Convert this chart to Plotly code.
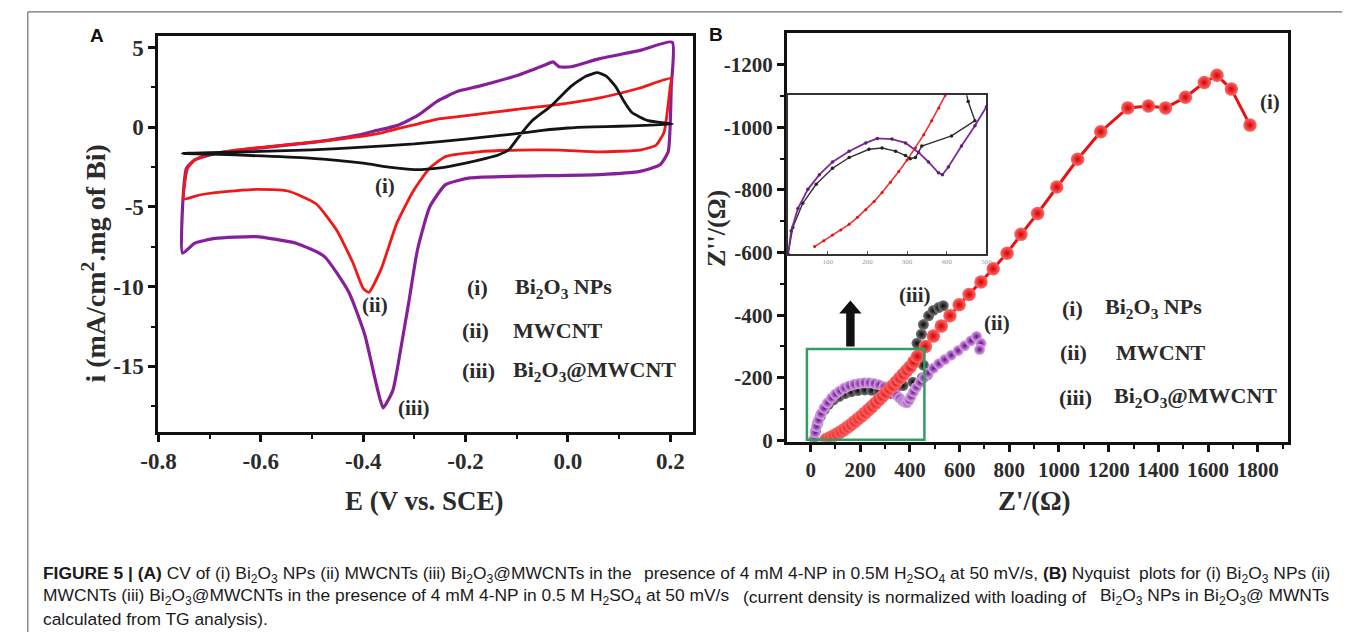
import plotly.graph_objects as go

W, H = 1348, 643

# ---------------- Panel A : CV data ----------------
cv_bi2o3_e = [-0.753, -0.70, -0.60, -0.50, -0.40, -0.35, -0.30, -0.25, -0.20, -0.16, -0.136, -0.115,
              -0.096, -0.07, -0.033, 0.006, 0.035, 0.058, 0.075, 0.093, 0.11, 0.125, 0.157, 0.204,
              0.15, 0.10, 0.05, 0.0, -0.05, -0.10, -0.20, -0.30, -0.40, -0.50, -0.60, -0.70, -0.753]
cv_bi2o3_i = [-1.64, -1.68, -1.80, -1.95, -2.25, -2.50, -2.66, -2.55, -2.25, -1.95, -1.74, -1.40,
              -0.60, 0.40, 1.33, 2.56, 3.20, 3.42, 3.20, 2.56, 1.60, 0.92, 0.41, 0.20,
              0.12, 0.06, 0.02, -0.05, -0.20, -0.40, -0.75, -1.05, -1.25, -1.42, -1.52, -1.60, -1.64]

cv_mwcnt_e = [-0.751, -0.72, -0.689, -0.61, -0.547, -0.492, -0.452, -0.42, -0.40, -0.389, -0.365,
              -0.334, -0.302, -0.27, -0.239, -0.175, -0.096, -0.017, 0.062, 0.141, 0.172, 0.188,
              0.20, 0.202, 0.141, 0.062, -0.017, -0.096, -0.175, -0.255, -0.294, -0.334, -0.373,
              -0.413, -0.492, -0.571, -0.65, -0.705, -0.729, -0.743, -0.749, -0.751]
cv_mwcnt_i = [-4.5, -4.25, -4.1, -3.9, -4.0, -4.8, -6.45, -8.5, -10.1, -10.35, -8.9,
              -6.0, -4.0, -2.56, -1.84, -1.54, -1.43, -1.43, -1.54, -1.43, -1.13, -0.31,
              2.56, 3.07, 2.46, 1.84, 1.43, 1.13, 0.82, 0.51, 0.2, -0.1, -0.41,
              -0.61, -0.92, -1.17, -1.43, -1.74, -2.05, -2.56, -3.6, -4.5]

cv_comp_e = [-0.753, -0.729, -0.689, -0.61, -0.531, -0.476, -0.428, -0.397, -0.373, -0.361, -0.342,
             -0.326, -0.31, -0.294, -0.27, -0.239, -0.191, -0.096, 0.062, 0.141, 0.18, 0.196,
             0.202, 0.204, 0.141, 0.062, 0.006, -0.017, -0.029, -0.045, -0.096, -0.175, -0.215,
             -0.255, -0.294, -0.334, -0.373, -0.413, -0.492, -0.61, -0.689, -0.729, -0.745,
             -0.751, -0.753]
cv_comp_i = [-7.9, -7.27, -6.97, -6.86, -7.27, -8.1, -10.35, -13.0, -16.3, -17.6, -16.5,
             -13.8, -10.8, -7.7, -5.0, -3.6, -3.18, -3.07, -2.97, -2.77, -2.36, -1.54,
             2.56, 5.33, 4.82, 4.30, 3.79, 3.79, 4.1, 3.9, 3.28, 2.56, 2.25,
             1.64, 0.72, 0.1, -0.2, -0.51, -0.92, -1.33, -1.64, -2.05, -2.56,
             -4.0, -7.9]

a_xticks = [-0.8, -0.6, -0.4, -0.2, 0.0, 0.2]
a_xticktext = ["-0.8", "-0.6", "-0.4", "-0.2", "0.0", "0.2"]
a_xminor = [-0.7, -0.5, -0.3, -0.1, 0.1]
a_yticks = [5, 0, -5, -10, -15]
a_yticktext = ["5", "0", "-5", "-10", "-15"]
a_yminor = [2.5, -2.5, -7.5, -12.5, -17.5]

# ---------------- Panel B : Nyquist data ----------------
nps_zre = [63, 78, 92, 106, 120, 134, 148, 162, 176, 190, 204, 218, 232, 246, 260, 274, 288, 302,
           316, 330, 344, 358, 372, 386, 400, 415, 430, 462, 494, 526, 561, 598, 638, 686, 735,
           791, 847, 914, 991, 1075, 1168, 1277, 1360, 1429, 1509, 1585, 1636, 1694, 1769]
nps_zim = [-3, -8, -14, -20, -27, -34, -42, -50, -59, -68, -77, -87, -97, -107, -118, -129, -140,
           -151, -163, -174, -186, -198, -210, -222, -234, -250, -268, -300, -333, -365, -398,
           -433, -466, -506, -548, -598, -658, -725, -809, -898, -986, -1062, -1068, -1062,
           -1096, -1143, -1166, -1122, -1007]

mwcnt_zre = [14, 18, 24, 32, 42, 54, 68, 84, 100, 118, 136, 155, 175, 195, 215, 235, 255, 275,
             295, 313, 330, 345, 358, 370, 380, 388, 396, 404, 414, 426, 440, 456, 474, 494, 516,
             540, 566, 594, 620, 645, 668, 686, 680]
mwcnt_zim = [-5, -25, -45, -65, -85, -103, -120, -135, -148, -158, -167, -174, -179, -182, -184,
             -184, -182, -178, -172, -164, -155, -145, -135, -126, -121, -120, -128, -140, -155,
             -170, -185, -200, -215, -230, -245, -258, -272, -287, -302, -318, -332, -310, -290]

comp_zre = [14, 20, 28, 40, 55, 72, 92, 114, 138, 163, 190, 218, 246, 274, 300, 322, 340, 372,
            412, 450, 471, 454, 440, 428, 446, 454, 475, 494, 515, 534]
comp_zim = [-5, -30, -55, -78, -98, -115, -129, -140, -149, -155, -159, -161, -160, -157, -152,
            -150, -160, -175, -186, -200, -210, -240, -270, -310, -339, -370, -398, -415, -424, -430]

b_xticks = [0, 200, 400, 600, 800, 1000, 1200, 1400, 1600, 1800]
b_xticktext = ["0", "200", "400", "600", "800", "1000", "1200", "1400", "1600", "1800"]
b_xminor = [100, 300, 500, 700, 900, 1100, 1300, 1500, 1700, 1900]
b_yticks = [0, -200, -400, -600, -800, -1000, -1200]
b_yticktext = ["0", "-200", "-400", "-600", "-800", "-1000", "-1200"]
b_yminor = [-100, -300, -500, -700, -900, -1100]

# ---------------- Inset data ----------------
ins_mwcnt_zre = [0, 8, 25, 50, 79, 112, 154, 196, 225, 262, 296, 329, 354, 379, 389, 404, 437, 471, 500]
ins_mwcnt_zim = [0, -37, -72, -102, -125, -145, -162, -175, -182, -181, -175, -160, -145, -128,
                 -125, -137, -170, -202, -232]
ins_comp_zre = [0, 12, 37, 71, 112, 154, 204, 237, 271, 296, 308, 321, 337, 412, 471, 454, 446]
ins_comp_zim = [0, -42, -80, -110, -135, -152, -165, -167, -162, -155, -150, -152, -170, -186,
                -210, -240, -262]
ins_nps_zre = [67, 90, 112, 133, 154, 175, 196, 217, 237, 258, 279, 300, 321, 342, 362, 380, 396, 412]
ins_nps_zim = [-12, -21, -30, -38, -47, -58, -70, -83, -97, -113, -130, -148, -167, -188, -210,
               -230, -250, -268]
ins_xticks = [100, 200, 300, 400, 500]
ins_xticktext = ["100", "200", "300", "400", "500"]

# ---------------- Figure ----------------
fig = go.Figure()

BLACK = "#141414"
RED = "#f01818"
PURPLE = "#86209a"


def px_x(p):
    return p / W


def px_y(p):
    return 1 - p / H


SPL = dict(shape="spline", smoothing=0.5)
# Panel A traces
fig.add_trace(go.Scatter(x=cv_comp_e, y=cv_comp_i, mode="lines", xaxis="x", yaxis="y",
                         line=dict(color=PURPLE, width=3.2, **SPL), hoverinfo="skip", showlegend=False))
fig.add_trace(go.Scatter(x=cv_mwcnt_e, y=cv_mwcnt_i, mode="lines", xaxis="x", yaxis="y",
                         line=dict(color=RED, width=2.8, **SPL), hoverinfo="skip", showlegend=False))
fig.add_trace(go.Scatter(x=cv_bi2o3_e, y=cv_bi2o3_i, mode="lines", xaxis="x", yaxis="y",
                         line=dict(color=BLACK, width=2.8, **SPL), hoverinfo="skip", showlegend=False))

# Panel B traces
fig.add_trace(go.Scatter(x=comp_zre, y=comp_zim, mode="lines+markers", xaxis="x2", yaxis="y2",
                         line=dict(color="#222", width=1.5),
                         marker=dict(size=11, color="#7a7a7a", gradient=dict(type="radial", color="#050505"),
                                     line=dict(width=0)),
                         hoverinfo="skip", showlegend=False))
fig.add_trace(go.Scatter(x=mwcnt_zre, y=mwcnt_zim, mode="lines+markers", xaxis="x2", yaxis="y2",
                         line=dict(color=PURPLE, width=1.5),
                         marker=dict(size=11, color="#dcaeea", gradient=dict(type="radial", color="#6a0a8a"),
                                     line=dict(width=0)),
                         hoverinfo="skip", showlegend=False))
fig.add_trace(go.Scatter(x=nps_zre, y=nps_zim, mode="lines+markers", xaxis="x2", yaxis="y2",
                         line=dict(color="#e81010", width=3),
                         marker=dict(size=13.5, color="#ff6a6a", gradient=dict(type="radial", color="#d40000"),
                                     line=dict(width=0)),
                         hoverinfo="skip", showlegend=False))

# Inset traces
fig.add_trace(go.Scatter(x=ins_nps_zre, y=ins_nps_zim, mode="lines+markers", xaxis="x3", yaxis="y3",
                         line=dict(color="#f03030", width=1.6), marker=dict(size=3, color="#e01010"),
                         hoverinfo="skip", showlegend=False))
fig.add_trace(go.Scatter(x=ins_comp_zre, y=ins_comp_zim, mode="lines+markers", xaxis="x3", yaxis="y3",
                         line=dict(color="#333333", width=1.4), marker=dict(size=3.5, color="#222"),
                         hoverinfo="skip", showlegend=False))
fig.add_trace(go.Scatter(x=ins_mwcnt_zre, y=ins_mwcnt_zim, mode="lines+markers", xaxis="x3", yaxis="y3",
                         line=dict(color="#7d2a9a", width=1.8), marker=dict(size=3.5, color="#5a2470"),
                         hoverinfo="skip", showlegend=False))

SERIF = "Liberation Serif"
TXT = "#2b2b2b"

axis_common = dict(showline=True, mirror=True, linecolor="#111", linewidth=3, ticks="outside",
                   tickwidth=2.5, ticklen=7, tickcolor="#111", showgrid=False, zeroline=False,
                   tickmode="array")

fig.update_layout(
    width=W, height=H, margin=dict(l=0, r=0, t=0, b=0),
    paper_bgcolor="white", plot_bgcolor="rgba(0,0,0,0)",
    xaxis=dict(domain=[px_x(143), px_x(687)], range=[-0.8, 0.244], tickvals=a_xticks,
               ticktext=a_xticktext, anchor="y",
               tickfont=dict(family=SERIF, size=23, color=TXT, weight="bold"),
               minor=dict(tickvals=a_xminor, ticks="outside", ticklen=4, tickwidth=2, tickcolor="#111"),
               **axis_common),
    yaxis=dict(domain=[px_y(439), px_y(36)], range=[-19.1, 5.7], tickvals=a_yticks,
               ticktext=a_yticktext, anchor="x",
               tickfont=dict(family=SERIF, size=23, color=TXT, weight="bold"),
               minor=dict(tickvals=a_yminor, ticks="outside", ticklen=4, tickwidth=2, tickcolor="#111"),
               **axis_common),
    xaxis2=dict(domain=[px_x(783), px_x(1293)], range=[-95, 1922], tickvals=b_xticks,
                ticktext=b_xticktext, anchor="y2",
                tickfont=dict(family=SERIF, size=21, color=TXT, weight="bold"),
                minor=dict(tickvals=b_xminor, ticks="outside", ticklen=4, tickwidth=2, tickcolor="#111"),
                **axis_common),
    yaxis2=dict(domain=[px_y(449), px_y(33)], range=[4, -1300], tickvals=b_yticks,
                ticktext=b_yticktext, anchor="x2",
                tickfont=dict(family=SERIF, size=21, color=TXT, weight="bold"),
                minor=dict(tickvals=b_yminor, ticks="outside", ticklen=4, tickwidth=2, tickcolor="#111"),
                **axis_common),
    xaxis3=dict(domain=[px_x(784), px_x(986)], range=[0, 500], tickmode="array", tickvals=ins_xticks,
                ticktext=ins_xticktext, anchor="y3", showline=True, mirror=True, linecolor="#333",
                linewidth=1.5, ticks="inside", ticklen=3, tickcolor="#555", showgrid=False,
                zeroline=False, tickfont=dict(family=SERIF, size=7, color="#999")),
    yaxis3=dict(domain=[px_y(258), px_y(96)], range=[0, -250], anchor="x3", showline=True,
                mirror=True, linecolor="#333", linewidth=1.5, ticks="", showticklabels=False,
                showgrid=False, zeroline=False),
)

ann = []


def text(x, y, s, size=22, xref="paper", yref="paper", xanchor="left", yanchor="middle",
         family=SERIF, color=TXT, bold=True, angle=0):
    ann.append(dict(x=x, y=y, xref=xref, yref=yref, text=s, showarrow=False, xanchor=xanchor,
                    yanchor=yanchor, textangle=angle, borderpad=0,
                    font=dict(family=family, size=size, color=color, weight="bold" if bold else "normal")))


# panel letters
text(px_x(80), px_y(35), "A", size=19, family="Liberation Sans", color="#111", xanchor="center")
text(px_x(711), px_y(34), "B", size=19, family="Liberation Sans", color="#111", xanchor="center")

# Panel A titles
text(px_x(414), px_y(510), "E (V vs. SCE)", size=27, xanchor="center")
text(px_x(78), px_y(268), "i (mA/cm<sup>2</sup>.mg of Bi)", size=28, xanchor="center", angle=-90)

# Panel A curve labels
text(-0.357, -3.69, "(i)", size=21, xref="x", yref="y", xanchor="center")
text(-0.377, -11.17, "(ii)", size=21, xref="x", yref="y", xanchor="center")
text(-0.30, -17.6, "(iii)", size=21, xref="x", yref="y", xanchor="center")

# Panel A legend text
LEG = 22
text(px_x(456), px_y(292), "(i)", size=LEG)
text(px_x(505), px_y(292), "Bi<sub>2</sub>O<sub>3</sub> NPs", size=LEG)
text(px_x(451), px_y(336), "(ii)", size=LEG)
text(px_x(503), px_y(336), "MWCNT", size=LEG)
text(px_x(451), px_y(377), "(iii)", size=LEG)
text(px_x(503), px_y(377), "Bi<sub>2</sub>O<sub>3</sub>@MWCNT", size=LEG)

# Panel B titles
text(px_x(1035), px_y(510), "Z'/(Ω)", size=27, xanchor="center")
text(px_x(711), px_y(232), "Z''/(Ω)", size=26, xanchor="center", angle=-90)

# Panel B curve labels
text(1850, -1080, "(i)", size=21, xref="x2", yref="y2", xanchor="center")
text(750, -376, "(ii)", size=21, xref="x2", yref="y2", xanchor="center")
text(422, -464, "(iii)", size=21, xref="x2", yref="y2", xanchor="center")

# Panel B legend
text(px_x(1062), px_y(313), "(i)", size=LEG)
text(px_x(1106), px_y(313), "Bi<sub>2</sub>O<sub>3</sub> NPs", size=LEG)
text(px_x(1060), px_y(358), "(ii)", size=LEG)
text(px_x(1117), px_y(358), "MWCNT", size=LEG)
text(px_x(1059), px_y(404), "(iii)", size=LEG)
text(px_x(1115), px_y(404), "Bi<sub>2</sub>O<sub>3</sub>@MWCNT", size=LEG)

# Caption (justified lines are split into three chunks)
CAP = "Liberation Sans"
BI = "Bi<sub>2</sub>O<sub>3</sub>"
H2 = "H<sub>2</sub>SO<sub>4</sub>"
cap1_a = f"<b>FIGURE 5 | (A)</b> CV of (i) {BI} NPs (ii) MWCNTs (iii) {BI}@MWCNTs in the"
cap1_b = f"presence of 4 mM 4-NP in 0.5M {H2} at 50 mV/s, <b>(B)</b> Nyquist"
cap1_c = f"plots for (i) {BI} NPs (ii)"
cap2_a = f"MWCNTs (iii) {BI}@MWCNTs in the presence of 4 mM 4-NP in 0.5 M {H2} at 50 mV/s"
cap2_b = "(current density is normalized with loading of"
cap2_c = f"{BI} NPs in {BI}@ MWNTs"
cap3 = "calculated from TG analysis)."
CS = 17.4
CC = "#1a1a1a"
text(px_x(24), px_y(584), cap1_a, size=CS, family=CAP, color=CC, bold=False)
text(px_x(885), px_y(584), cap1_b, size=CS, family=CAP, color=CC, bold=False, xanchor="center")
text(px_x(1337), px_y(584), cap1_c, size=CS, family=CAP, color=CC, bold=False, xanchor="right")
text(px_x(24), px_y(607), cap2_a, size=CS, family=CAP, color=CC, bold=False)
text(px_x(913), px_y(607), cap2_b, size=CS, family=CAP, color=CC, bold=False, xanchor="center")
text(px_x(1337), px_y(607), cap2_c, size=CS, family=CAP, color=CC, bold=False, xanchor="right")
text(px_x(24), px_y(630), cap3, size=CS, family=CAP, color=CC, bold=False)

fig.update_layout(annotations=ann)

# Shapes: outer frame, green box, arrow
arrow_x, arrow_base, arrow_neck, arrow_tip = 160, -300, -405, -447
shaft_hw, head_hw = 17, 45
arrow_path = (f"M {arrow_x - shaft_hw},{arrow_base} L {arrow_x - shaft_hw},{arrow_neck} "
              f"L {arrow_x - head_hw},{arrow_neck} L {arrow_x},{arrow_tip} L {arrow_x + head_hw},{arrow_neck} "
              f"L {arrow_x + shaft_hw},{arrow_neck} L {arrow_x + shaft_hw},{arrow_base} Z")
fig.update_layout(shapes=[
    dict(type="line", xref="paper", yref="paper", x0=px_x(10), x1=px_x(10), y0=px_y(11), y1=px_y(643),
         line=dict(color="#6e6e6e", width=1.2)),
    dict(type="line", xref="paper", yref="paper", x0=px_x(10), x1=px_x(1348), y0=px_y(11), y1=px_y(11),
         line=dict(color="#6e6e6e", width=1.2)),
    dict(type="rect", xref="x2", yref="y2", x0=-15, x1=458, y0=-2, y1=-292,
         line=dict(color="#2f9e5f", width=2.5)),
    dict(type="path", xref="x2", yref="y2", path=arrow_path, fillcolor="#111", line=dict(width=0)),
])

fig.write_html("out.html")
